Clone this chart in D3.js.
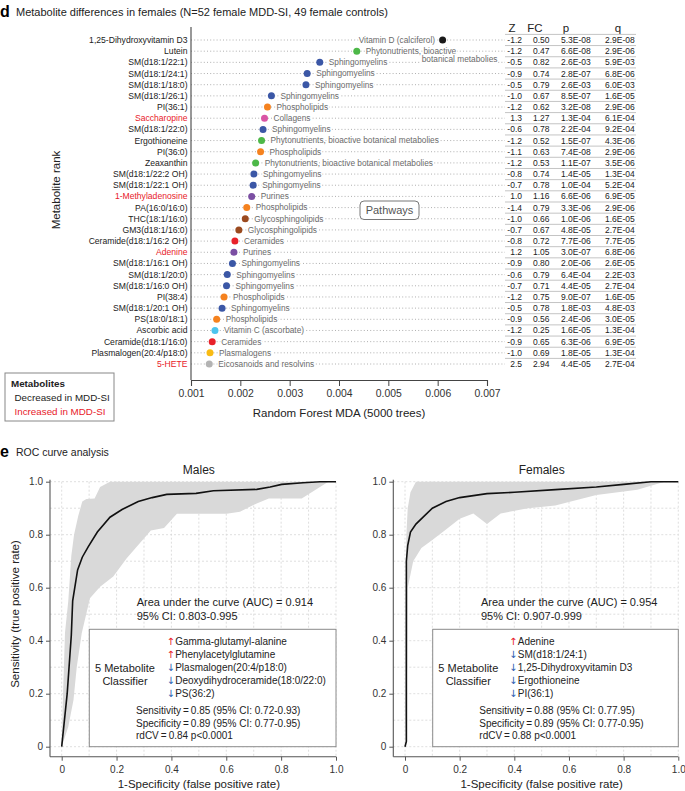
<!DOCTYPE html>
<html><head><meta charset="utf-8">
<script src="https://cdn.jsdelivr.net/npm/d3@7"></script>
<style>body{margin:0;background:#fff} svg{display:block;font-family:"Liberation Sans",Arial,Helvetica,sans-serif}</style>
</head><body><svg id="c" width="685" height="791"></svg>
<script>
// ---------- Panel d data ----------
const metabolites = ["1,25-Dihydroxyvitamin D3","Lutein","SM(d18:1/22:1)","SM(d18:1/24:1)","SM(d18:1/18:0)","SM(d18:1/26:1)","PI(36:1)","Saccharopine","SM(d18:1/22:0)","Ergothioneine","PI(36:0)","Zeaxanthin","SM(d18:1/22:2 OH)","SM(d18:1/22:1 OH)","1-Methyladenosine","PA(16:0/16:0)","THC(18:1/16:0)","GM3(d18:1/16:0)","Ceramide(d18:1/16:2 OH)","Adenine","SM(d18:1/16:1 OH)","SM(d18:1/20:0)","SM(d18:1/16:0 OH)","PI(38:4)","SM(d18:1/20:1 OH)","PS(18:0/18:1)","Ascorbic acid","Ceramide(d18:1/16:0)","Plasmalogen(20:4/p18:0)","5-HETE"];
const mda = [0.00610,0.00436,0.00361,0.003355,0.00333,0.00263,0.00255,0.00249,0.00246,0.00243,0.00241,0.00231,0.002275,0.00226,0.00223,0.00213,0.00210,0.00197,0.00189,0.00187,0.00184,0.001735,0.00172,0.00167,0.00163,0.00152,0.001486,0.00143,0.001385,0.00137];
const pathways = ["Vitamin D (calciferol)","Phytonutrients, bioactive botanical metabolies","Sphingomyelins","Sphingomyelins","Sphingomyelins","Sphingomyelins","Phospholipids","Collagens","Sphingomyelins","Phytonutrients, bioactive botanical metabolies","Phospholipids","Phytonutrients, bioactive botanical metabolies","Sphingomyelins","Sphingomyelins","Purines","Phospholipids","Glycosphingolipids","Glycosphingolipids","Ceramides","Purines","Sphingomyelins","Sphingomyelins","Sphingomyelins","Phospholipids","Sphingomyelins","Phospholipids","Vitamin C (ascorbate)","Ceramides","Plasmalogens","Eicosanoids and resolvins"];
const zScores = ["-1.2","-1.2","-0.5","-0.9","-0.5","-1.0","-1.2","1.3","-0.6","-1.2","-1.1","-1.2","-0.8","-0.7","1.0","-1.4","-1.0","-0.7","-0.8","1.2","-0.9","-0.6","-0.7","-1.2","-0.5","-0.9","-1.2","-0.9","-1.0","2.5"];
const foldChanges = ["0.50","0.47","0.82","0.74","0.79","0.67","0.62","1.27","0.78","0.52","0.63","0.53","0.74","0.78","1.16","0.79","0.66","0.67","0.72","1.05","0.80","0.79","0.71","0.75","0.78","0.56","0.25","0.65","0.69","2.94"];
const pValues = ["5.3E-08","6.6E-08","2.6E-03","2.8E-07","2.6E-03","8.5E-07","3.2E-08","1.3E-04","2.2E-04","1.5E-07","7.4E-08","1.1E-07","1.4E-05","1.0E-04","6.6E-06","3.3E-06","1.0E-06","4.8E-05","7.7E-06","3.0E-07","2.0E-06","6.4E-04","4.4E-05","9.0E-07","1.8E-03","2.4E-06","1.6E-05","6.3E-06","1.8E-05","4.4E-05"];
const qValues = ["2.9E-08","2.9E-06","5.9E-03","6.8E-06","6.0E-03","1.6E-05","2.9E-06","6.1E-04","9.2E-04","4.3E-06","2.9E-06","3.5E-06","1.3E-04","5.2E-04","6.9E-05","2.9E-06","1.6E-05","2.7E-04","7.7E-05","6.8E-06","2.6E-05","2.2E-03","2.7E-04","1.6E-05","4.8E-03","3.0E-05","1.3E-04","6.9E-05","1.3E-04","2.7E-04"];
const mdaTicks = [0.001,0.002,0.003,0.004,0.005,0.006,0.007];
const pathwayNames = ["Vitamin D (calciferol)","Phytonutrients, bioactive botanical metabolies","Sphingomyelins","Phospholipids","Collagens","Purines","Glycosphingolipids","Ceramides","Vitamin C (ascorbate)","Plasmalogens","Eicosanoids and resolvins"];
const pathwayColors = ["#1a1a1a","#4db848","#3b57a6","#f5821f","#d955a5","#7b4fa3","#9b4a1f","#e8212a","#4cc4ee","#f9bb13","#b3b3b3"];

// ---------- Panel e data ----------
const rocTicks = [0,0.2,0.4,0.6,0.8,1.0];
const rocGrid = [0,0.1,0.2,0.3,0.4,0.5,0.6,0.7,0.8,0.9,1.0];
const maleCurve = [[0,0],[0.02,0.2],[0.035,0.42],[0.04,0.55],[0.058,0.667],[0.075,0.715],[0.097,0.755],[0.13,0.81],[0.176,0.866],[0.22,0.895],[0.279,0.925],[0.33,0.94],[0.383,0.952],[0.49,0.956],[0.553,0.966],[0.711,0.971],[0.76,0.98],[0.802,0.99],[0.88,0.996],[0.942,1],[1,1]];
const maleUpper = [[0,0],[0.005,0.2],[0.012,0.43],[0.024,0.55],[0.035,0.72],[0.045,0.8],[0.06,0.87],[0.075,0.925],[0.09,0.935],[0.12,0.937],[0.14,0.98],[0.176,1],[1,1]];
const maleLower = [[0,0],[0.024,0.075],[0.043,0.176],[0.055,0.302],[0.073,0.428],[0.103,0.56],[0.14,0.604],[0.188,0.642],[0.237,0.711],[0.325,0.816],[0.373,0.825],[0.42,0.879],[0.601,0.879],[0.65,0.887],[0.711,0.918],[0.755,0.937],[0.875,0.937],[0.972,1],[1,1]];
const femaleCurve = [[0,0],[0.005,0.02],[0.005,0.7],[0.01,0.76],[0.02,0.81],[0.04,0.84],[0.07,0.87],[0.1,0.9],[0.15,0.925],[0.2,0.94],[0.3,0.955],[0.4,0.96],[0.55,0.97],[0.7,0.98],[0.8,0.99],[0.9,1],[1,1]];
const femaleUpper = [[0,0],[0.002,0.5],[0.005,0.8],[0.01,0.9],[0.02,0.96],[0.04,1],[1,1]];
const femaleLower = [[0,0],[0.008,0.3],[0.01,0.6],[0.03,0.7],[0.06,0.75],[0.1,0.78],[0.15,0.82],[0.2,0.86],[0.25,0.88],[0.3,0.84],[0.35,0.88],[0.45,0.9],[0.55,0.91],[0.7,0.95],[0.85,0.97],[0.95,1],[1,1]];
const maleClassifier = ["Gamma-glutamyl-alanine","Phenylacetylglutamine","Plasmalogen(20:4/p18:0)","Deoxydihydroceramide(18:0/22:0)","PS(36:2)"];
const maleDirections = ["up","up","down","down","down"];
const femaleClassifier = ["Adenine","SM(d18:1/24:1)","1,25-Dihydroxyvitamin D3","Ergothioneine","PI(36:1)"];
const femaleDirections = ["up","down","down","down","down"];
const maleStats = ["Area under the curve (AUC) = 0.914","95% CI: 0.803-0.995","Sensitivity\u2009=\u20090.85 (95% CI: 0.72-0.93)","Specificity\u2009=\u20090.89 (95% CI: 0.77-0.95)","rdCV\u2009=\u20090.84 p<0.0001"];
const femaleStats = ["Area under the curve (AUC) = 0.954","95% CI: 0.907-0.999","Sensitivity\u2009=\u20090.88 (95% CI: 0.77.95)","Specificity\u2009=\u20090.89 (95% CI: 0.77-0.95)","rdCV\u2009=\u20090.88 p<0.0001"];

const RED = "#e8212a", BLUE = "#2a5cb0";
const svg = d3.select("#c");

// ---------- Panel d ----------
svg.append("text").attr("x",0).attr("y",17).attr("font-size",16).attr("font-weight","bold").text("d");
svg.append("text").attr("x",16).attr("y",16).attr("font-size",11).attr("fill","#222")
  .text("Metabolite differences in females (N=52 female MDD-SI, 49 female controls)");

const colorOf = d3.scaleOrdinal().domain(pathwayNames).range(pathwayColors);
const xMda = d3.scaleLinear().domain([0.001,0.007]).range([191,487]);
const yRank = d3.scalePoint().domain(metabolites).range([40,364]);

const gd = svg.append("g");
gd.selectAll("line.guide").data(metabolites).join("line")
  .attr("x1",191).attr("x2",505).attr("y1",d=>yRank(d)).attr("y2",d=>yRank(d))
  .attr("stroke","#9c9c9c").attr("stroke-width",0.8).attr("stroke-dasharray","1,2.2");
gd.selectAll("text.rl").data(metabolites).join("text")
  .attr("x",187.5).attr("y",d=>yRank(d)).attr("dy","0.35em").attr("text-anchor","end")
  .attr("font-size",8.6).attr("fill",(d,i)=>+zScores[i]>0?RED:"#222").text(d=>d);
gd.append("line").attr("x1",191).attr("x2",191).attr("y1",27).attr("y2",380).attr("stroke","#444").attr("stroke-width",1.1);
const ax = gd.append("g").attr("transform","translate(0,380)")
  .call(d3.axisBottom(xMda).tickValues(mdaTicks).tickFormat(d3.format(".3f")).tickSize(6).tickSizeOuter(6).tickPadding(4));
ax.select(".domain").attr("stroke","#444").attr("stroke-width",1.1);
ax.selectAll(".tick line").attr("stroke","#444");
ax.selectAll(".tick text").attr("font-size",10.4).attr("fill","#333").attr("font-family","Liberation Sans, Arial, sans-serif");
gd.append("text").attr("x",339).attr("y",417).attr("text-anchor","middle").attr("font-size",11.5).attr("fill","#222").text("Random Forest MDA (5000 trees)");
gd.append("text").attr("transform","translate(60,190) rotate(-90)").attr("text-anchor","middle").attr("font-size",11.5).attr("fill","#222").text("Metabolite rank");

const pl = gd.selectAll("text.pl").data(metabolites).join("text")
  .attr("y",d=>yRank(d)).attr("dy","0.35em").attr("font-size",8.3).attr("fill","#6a6a6a")
  .attr("stroke","#fff").attr("stroke-width",2.5).attr("paint-order","stroke")
  .attr("x",(d,i)=> i===0 ? xMda(mda[i])-7.5 : xMda(mda[i])+9)
  .attr("text-anchor",(d,i)=> i===0 ? "end":"start");
pl.each(function(d,i){
  const t = d3.select(this);
  if(i===1){
    t.append("tspan").text("Phytonutrients, bioactive");
    t.append("tspan").attr("x",xMda(mda[i])+65).attr("dy","1em").text("botanical metabolies");
  } else t.text(pathways[i]);
});
gd.selectAll("circle.dot").data(metabolites).join("circle")
  .attr("cx",(d,i)=>xMda(mda[i])).attr("cy",d=>yRank(d)).attr("r",3.5)
  .attr("fill",(d,i)=>colorOf(pathways[i]));

gd.append("rect").attr("x",360).attr("y",201).attr("width",59).attr("height",18.5).attr("rx",4)
  .attr("fill","#fff").attr("stroke","#777").attr("stroke-width",1);
gd.append("text").attr("x",389.5).attr("y",210.3).attr("dy","0.35em").attr("text-anchor","middle").attr("font-size",11).attr("fill","#555").text("Pathways");

const colZ = 522, colFC = 533, colP = 561, colQ = 605;
const hdr = [["Z",512],["FC",535],["p",566],["q",618]];
gd.selectAll("text.hd").data(hdr).join("text").attr("x",d=>d[1]).attr("y",31.5).attr("text-anchor","middle")
  .attr("font-size",11.5).attr("fill","#222").text(d=>d[0]);
gd.selectAll("line.tl").data(metabolites).join("line")
  .attr("x1",505).attr("x2",636).attr("y1",d=>yRank(d)-5.6).attr("y2",d=>yRank(d)-5.6)
  .attr("stroke","#c4c4c4").attr("stroke-width",1);
const rowsT = gd.selectAll("g.tr").data(metabolites).join("g").attr("transform",d=>`translate(0,${yRank(d)})`);
rowsT.append("text").attr("x",colZ).attr("dy","0.35em").attr("text-anchor","end").attr("font-size",8.5).attr("fill","#222").text((d,i)=>zScores[i]);
rowsT.append("text").attr("x",colFC).attr("dy","0.35em").attr("font-size",8.5).attr("fill","#222").text((d,i)=>foldChanges[i]);
rowsT.append("text").attr("x",colP).attr("dy","0.35em").attr("font-size",8.5).attr("fill","#222").text((d,i)=>pValues[i]);
rowsT.append("text").attr("x",colQ).attr("dy","0.35em").attr("font-size",8.5).attr("fill","#222").text((d,i)=>qValues[i]);

gd.append("rect").attr("x",5).attr("y",373).attr("width",109).attr("height",48).attr("fill","none").attr("stroke","#888").attr("stroke-width",1);
gd.append("text").attr("x",11).attr("y",387).attr("font-size",9.8).attr("font-weight","bold").attr("fill","#222").text("Metabolites");
gd.append("text").attr("x",14.5).attr("y",400.5).attr("font-size",9.8).attr("fill","#222").text("Decreased in MDD-SI");
gd.append("text").attr("x",14.5).attr("y",415).attr("font-size",9.8).attr("fill",RED).text("Increased in MDD-SI");

// ---------- Panel e ----------
svg.append("text").attr("x",0).attr("y",457).attr("font-size",16).attr("font-weight","bold").text("e");
svg.append("text").attr("x",16).attr("y",456).attr("font-size",10.5).attr("fill","#222").text("ROC curve analysis");

function drawROC(o){
  const g = svg.append("g");
  const x = d3.scaleLinear().domain([0,1]).range([o.x0,o.x1]);
  const y = d3.scaleLinear().domain([0,1]).range([746.7,481.7]);
  const axY = 756.7;
  g.selectAll("line.gv").data(rocGrid).join("line").attr("x1",d=>x(d)).attr("x2",d=>x(d)).attr("y1",y(1)).attr("y2",axY)
    .attr("stroke","#d6d6d6").attr("stroke-width",0.8).attr("stroke-dasharray","2,2");
  g.selectAll("line.gh").data(rocGrid).join("line").attr("x1",o.ax).attr("x2",x(1)).attr("y1",d=>y(d)).attr("y2",d=>y(d))
    .attr("stroke","#d6d6d6").attr("stroke-width",0.8).attr("stroke-dasharray","2,2");
  const band = o.upper.concat(o.lower.slice().reverse());
  g.append("path").attr("d",d3.line().x(d=>x(d[0])).y(d=>y(d[1]))(band)+"Z").attr("fill","#d9d9d9").attr("stroke","none");
  g.append("path").attr("d",d3.line().x(d=>x(d[0])).y(d=>y(d[1]))(o.curve)).attr("fill","none").attr("stroke","#111").attr("stroke-width",1.6);
  const fmt = d=> d===0 ? "0" : d3.format(".1f")(d);
  const ay = g.append("g").attr("transform",`translate(${o.ax},0)`).call(d3.axisLeft(y).tickValues(rocTicks).tickFormat(fmt).tickSize(4).tickPadding(3));
  const axb = g.append("g").attr("transform",`translate(0,${axY})`).call(d3.axisBottom(x).tickValues(rocTicks).tickFormat(fmt).tickSize(4).tickPadding(5));
  [ay,axb].forEach(a=>{a.select(".domain").remove();a.selectAll(".tick line").attr("stroke","#555");
    a.selectAll(".tick text").attr("font-size",10).attr("fill","#333").attr("font-family","Liberation Sans, Arial, sans-serif");});
  g.append("line").attr("x1",o.ax).attr("x2",o.ax).attr("y1",y(1)-2).attr("y2",axY).attr("stroke","#555").attr("stroke-width",1.1);
  g.append("line").attr("x1",o.ax).attr("x2",x(1)).attr("y1",axY).attr("y2",axY).attr("stroke","#555").attr("stroke-width",1.1);
  g.append("text").attr("x",(o.x0+o.x1)/2).attr("y",474).attr("text-anchor","middle").attr("font-size",12).attr("fill","#222").text(o.title);
  g.append("text").attr("x",(o.x0+o.x1)/2).attr("y",788).attr("text-anchor","middle").attr("font-size",11.5).attr("fill","#222").text("1-Specificity (false positive rate)");
  g.append("text").attr("x",o.statX).attr("y",605.5).attr("font-size",11).attr("fill","#222").text(o.stats[0]);
  g.append("text").attr("x",o.statX).attr("y",619.5).attr("font-size",11).attr("fill","#222").text(o.stats[1]);
  g.append("rect").attr("x",o.boxX).attr("y",629.3).attr("width",x(1)-o.boxX).attr("height",117.4).attr("fill","#fff").attr("stroke","#8a8a8a").attr("stroke-width",1);
  g.append("text").attr("x",o.clsX).attr("y",671.5).attr("text-anchor","middle").attr("font-size",11).attr("fill","#222").text("5 Metabolite");
  g.append("text").attr("x",o.clsX).attr("y",684.5).attr("text-anchor","middle").attr("font-size",11).attr("fill","#222").text("Classifier");
  const rowY = [645.2,657.9,671.2,684.2,696.8];
  o.names.forEach((n,i)=>{
    g.append("text").attr("x",o.arrX).attr("y",rowY[i]).attr("text-anchor","middle").attr("font-size",10).attr("font-family","DejaVu Sans, sans-serif")
      .attr("fill",o.dirs[i]==="up"?RED:BLUE).text(o.dirs[i]==="up"?"\u2191":"\u2193");
    g.append("text").attr("x",o.arrX+4.5).attr("y",rowY[i]).attr("font-size",10).attr("fill","#222").text(n);
  });
  [2,3,4].forEach((k,j)=> g.append("text").attr("x",o.sensX).attr("y",714+j*12.7).attr("font-size",10).attr("fill","#222").text(o.stats[k]));
  return g;
}
drawROC({x0:61.7,x1:336,ax:50,title:"Males",curve:maleCurve,upper:maleUpper,lower:maleLower,stats:maleStats,
  statX:136.7,boxX:89.3,clsX:125,arrX:170.7,sensX:136,names:maleClassifier,dirs:maleDirections});
drawROC({x0:405,x1:678.3,ax:393.3,title:"Females",curve:femaleCurve,upper:femaleUpper,lower:femaleLower,stats:femaleStats,
  statX:481,boxX:432.7,clsX:468.3,arrX:513.3,sensX:479.3,names:femaleClassifier,dirs:femaleDirections});
svg.append("text").attr("transform","translate(19,614) rotate(-90)").attr("text-anchor","middle").attr("font-size",11.5).attr("fill","#222").text("Sensitivity (true positive rate)");
</script></body></html>
